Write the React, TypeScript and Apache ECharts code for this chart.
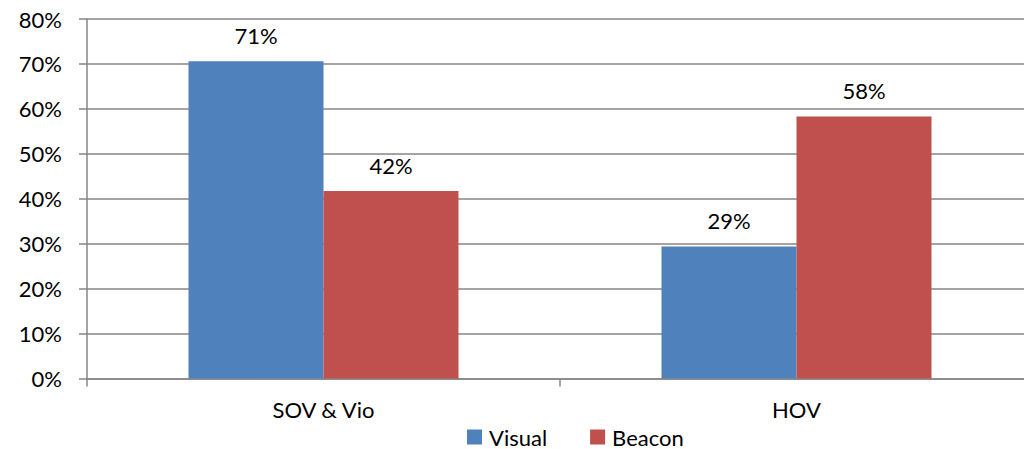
import React, { useEffect, useRef } from "react";
import * as echarts from "echarts";

const categories = ["SOV & Vio", "HOV"];
const visualValues = [70.6, 29.4];
const beaconValues = [41.7, 58.3];
const yTicks = [0, 10, 20, 30, 40, 50, 60, 70, 80];

const FONT = "Lato, 'Open Sans', sans-serif";

export default function App() {
  const ref = useRef<HTMLDivElement>(null);
  useEffect(() => {
    if (!ref.current) return;
    const chart = echarts.init(ref.current, null, { renderer: "svg" });
    const label = {
      show: true,
      position: "top",
      distance: 15,
      color: "#000",
      fontSize: 22,
      fontFamily: FONT,
      formatter: (p: any) => Math.round(p.value) + "%",
    };
    chart.setOption({
      animation: false,
      backgroundColor: "#fff",
      textStyle: { fontFamily: FONT },
      grid: {
        left: 87,
        top: 19,
        width: 946,
        height: 359.5,
        containLabel: false,
        outerBoundsMode: "none",
      },
      legend: {
        data: ["Visual", "Beacon"],
        left: 467,
        top: 426,
        itemWidth: 15,
        itemHeight: 15,
        itemGap: 43,
        icon: "rect",
        padding: 0,
        textStyle: { fontSize: 22, lineHeight: 22, color: "#000", fontFamily: FONT, padding: [0, 0, 0, 2] },
      },
      xAxis: {
        type: "category",
        data: categories,
        axisLine: { lineStyle: { color: "#868686", width: 1.5 } },
        axisTick: { show: true, length: 8, lineStyle: { color: "#868686", width: 1.5 } },
        axisLabel: { fontSize: 22, color: "#000", margin: 20, fontFamily: FONT },
      },
      yAxis: {
        type: "value",
        min: 0,
        max: 80,
        interval: 10,
        axisLine: { show: true, lineStyle: { color: "#868686", width: 1.5 } },
        axisTick: { show: true, length: 8, lineStyle: { color: "#868686", width: 1.5 } },
        splitLine: { lineStyle: { color: "#868686", width: 1.5 } },
        axisLabel: {
          fontSize: 22,
          color: "#000",
          margin: 25,
          fontFamily: FONT,
          formatter: (v: number) => (yTicks.includes(v) ? v + "%" : ""),
        },
      },
      series: [
        {
          name: "Visual",
          type: "bar",
          data: visualValues,
          barWidth: 135,
          barGap: "0%",
          itemStyle: { color: "#4F81BD" },
          label,
        },
        {
          name: "Beacon",
          type: "bar",
          data: beaconValues,
          barWidth: 135,
          barGap: "0%",
          itemStyle: { color: "#C0504D" },
          label,
        },
      ],
    });
    return () => chart.dispose();
  }, []);
  return <div ref={ref} style={{ width: 1024, height: 449, position: "absolute", left: 0, top: 0 }} />;
}
